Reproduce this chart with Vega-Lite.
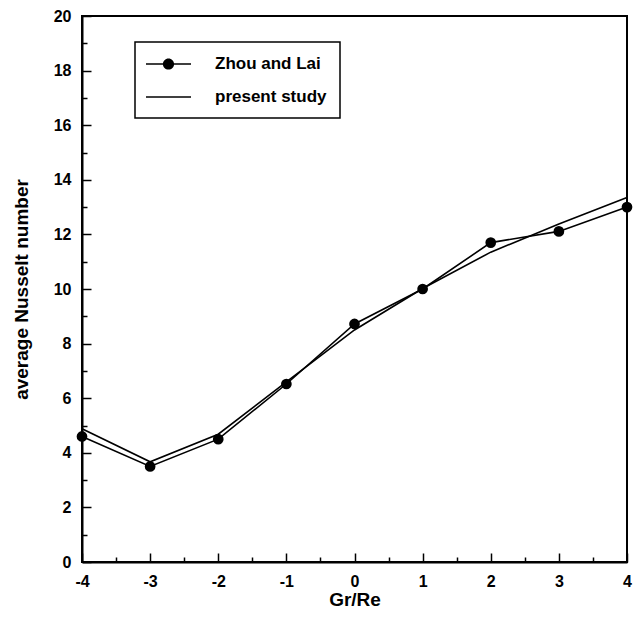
{
  "$schema": "https://vega.github.io/schema/vega-lite/v6.json",
  "width": 545,
  "height": 546,
  "autosize": "none",
  "padding": {"left": 82, "top": 16, "right": 10, "bottom": 61},
  "background": "white",
  "config": {
    "view": {"stroke": "black", "strokeWidth": 2},
    "font": "Liberation Sans",
    "legend": {"strokeWidth": 1.5},
    "axis": {
      "domainColor": "black",
      "domainWidth": 2,
      "tickColor": "black",
      "tickWidth": 1.5,
      "labelFont": "Liberation Sans",
      "labelFontWeight": "bold",
      "labelFontSize": 16,
      "labelColor": "black",
      "titleFont": "Liberation Sans",
      "titleFontWeight": "bold",
      "titleFontSize": 19,
      "titleColor": "black",
      "grid": false
    }
  },
  "data": {
    "values": [
      {"series": "Zhou and Lai", "x": -4, "y": 4.6},
      {"series": "Zhou and Lai", "x": -3, "y": 3.5},
      {"series": "Zhou and Lai", "x": -2, "y": 4.5},
      {"series": "Zhou and Lai", "x": -1, "y": 6.52},
      {"series": "Zhou and Lai", "x": 0, "y": 8.72},
      {"series": "Zhou and Lai", "x": 1, "y": 10.0},
      {"series": "Zhou and Lai", "x": 2, "y": 11.7},
      {"series": "Zhou and Lai", "x": 3, "y": 12.11},
      {"series": "Zhou and Lai", "x": 4, "y": 13.0},
      {"series": "present study", "x": -4, "y": 4.88},
      {"series": "present study", "x": -3, "y": 3.67},
      {"series": "present study", "x": -2, "y": 4.68},
      {"series": "present study", "x": -1, "y": 6.6},
      {"series": "present study", "x": 0, "y": 8.5},
      {"series": "present study", "x": 1, "y": 10.02},
      {"series": "present study", "x": 2, "y": 11.35},
      {"series": "present study", "x": 3, "y": 12.38},
      {"series": "present study", "x": 4, "y": 13.35}
    ]
  },
  "encoding": {
    "x": {
      "field": "x", "type": "quantitative",
      "scale": {"domain": [-4, 4], "nice": false, "zero": false},
      "axis": {
        "title": "Gr/Re",
        "values": [-4, -3.5, -3, -2.5, -2, -1.5, -1, -0.5, 0, 0.5, 1, 1.5, 2, 2.5, 3, 3.5, 4],
        "labelExpr": "datum.value % 1 === 0 ? toString(datum.value) : ''",
        "tickSize": {"condition": {"test": "datum.value % 1 !== 0", "value": -5}, "value": -9},
        "labelPadding": 20,
        "titlePadding": 1,
        "labelFlush": false
      }
    },
    "y": {
      "field": "y", "type": "quantitative",
      "scale": {"domain": [0, 20], "nice": false},
      "axis": {
        "title": "average Nusselt number",
        "values": [0, 1, 2, 3, 4, 5, 6, 7, 8, 9, 10, 11, 12, 13, 14, 15, 16, 17, 18, 19, 20],
        "labelExpr": "datum.value % 2 === 0 ? toString(datum.value) : ''",
        "tickSize": {"condition": {"test": "datum.value % 2 !== 0", "value": -5}, "value": -9},
        "labelPadding": 20,
        "titlePadding": 22,
        "labelFlush": false
      }
    }
  },
  "layer": [
    {
      "mark": {"type": "line", "color": "black", "strokeWidth": 1.6},
      "encoding": {"detail": {"field": "series"}}
    },
    {
      "transform": [{"filter": "datum.series === 'Zhou and Lai'"}],
      "mark": {"type": "point", "filled": true, "color": "black", "opacity": 1, "size": 115}
    },
    {
      "mark": {"type": "point", "filled": true, "color": "black", "size": 0},
      "encoding": {
        "shape": {
          "field": "series", "type": "nominal",
          "scale": {
            "domain": ["Zhou and Lai", "present study"],
            "range": [
              "M-1.375,-0.1H0.75V0.1H-1.375ZM2.125,-0.1H4.25V0.1H2.125ZM2.1375,0A0.7,0.7,0,1,1,0.7375,0A0.7,0.7,0,1,1,2.1375,0Z",
              "M-1.375,-0.1H4.25V0.1H-1.375Z"
            ]
          },
          "legend": {
            "title": null,
            "orient": "none",
            "legendX": 53,
            "legendY": 26,
            "padding": 13,
            "rowPadding": 15,
            "strokeColor": "black",
            "fillColor": "white",
            "symbolSize": 256,
            "symbolOpacity": 1,
            "symbolFillColor": "black",
            "labelOffset": 49,
            "labelFont": "Liberation Sans",
            "labelFontWeight": "bold",
            "labelFontSize": 17,
            "labelColor": "black"
          }
        }
      }
    }
  ]
}
